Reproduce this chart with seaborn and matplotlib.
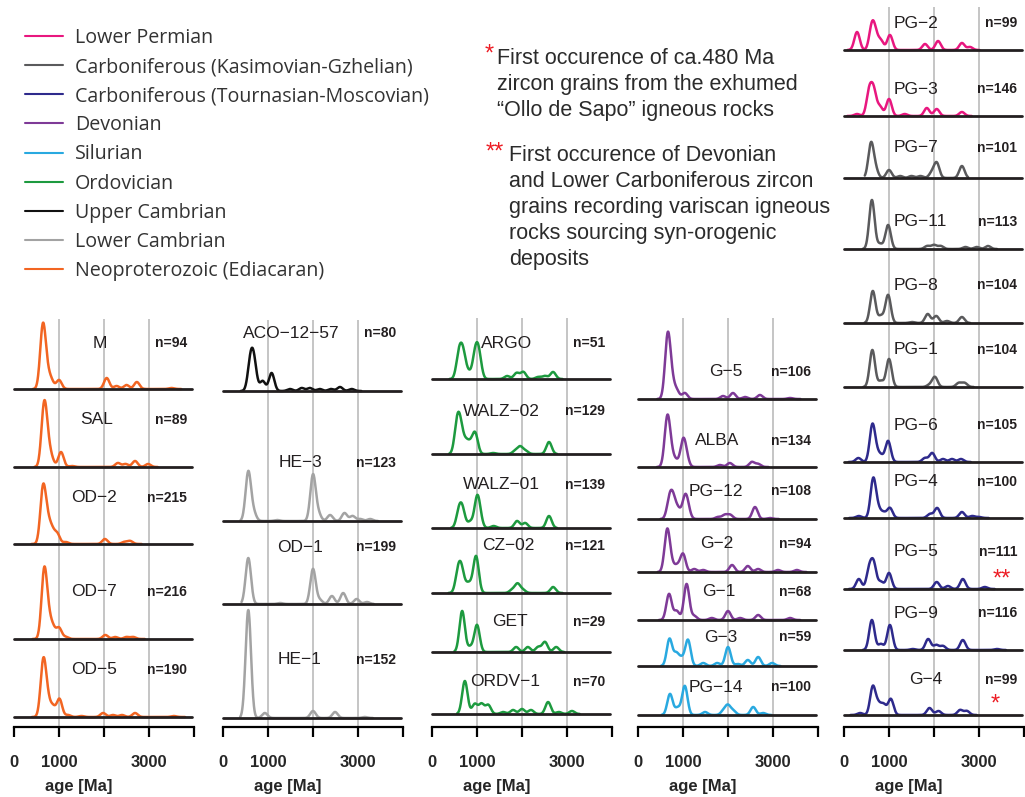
import numpy as np
import matplotlib
matplotlib.use("Agg")
import matplotlib.pyplot as plt
from matplotlib.lines import Line2D
import seaborn as sns

sns.set_style("white")
plt.rcParams['font.family'] = ['Liberation Sans', 'DejaVu Sans']

# Periods (legend order) and their colours
PERIODS = ['Lower Permian', 'Carboniferous (Kasimovian-Gzhelian)',
           'Carboniferous (Tournasian-Moscovian)', 'Devonian', 'Silurian',
           'Ordovician', 'Upper Cambrian', 'Lower Cambrian',
           'Neoproterozoic (Ediacaran)']
PERIOD_COLORS = ['#e8177f', '#5a5a5c', '#2e2a8c', '#7e3a97', '#29a9e0',
                 '#1d9a3f', '#111111', '#a3a3a3', '#f26522']

# Column 1 - Neoproterozoic
C1_NAMES = ['M', 'SAL', 'OD\u22122', 'OD\u22127', 'OD\u22125']
C1_N = [94, 89, 215, 216, 190]
C1_PERIOD = ['Neoproterozoic (Ediacaran)'] * 5
C1_AGES = [[640, 720, 820, 1000, 2060, 2280, 2500, 2730, 3500],
           [667, 740, 830, 1044, 1290, 2310, 2480, 2690, 2980],
           [644, 740, 840, 960, 1150, 2020, 2450, 2580],
           [670, 760, 860, 1000, 1150, 2030, 2250, 2500, 2650],
           [650, 740, 860, 1010, 1200, 1500, 1980, 2200, 2400, 2690, 3550]]
C1_WTS = [[60, 14, 9, 9, 11, 3, 4, 7, 1],
          [57, 18, 8, 15, 1, 4, 3, 6, 3],
          [54, 20, 13, 10, 2, 5, 2, 3],
          [66, 18, 11, 11, 2, 4, 2, 2, 2],
          [54, 16, 10, 18, 2, 1, 4, 2, 2, 4, 1]]

# Column 2 - Cambrian
C2_NAMES = ['ACO\u221212\u221257', 'HE\u22123', 'OD\u22121', 'HE\u22121']
C2_N = [80, 123, 199, 152]
C2_PERIOD = ['Upper Cambrian', 'Lower Cambrian', 'Lower Cambrian', 'Lower Cambrian']
C2_AGES = [[610, 690, 880, 1080, 1490, 1750, 1930, 2150, 2400, 2600, 2860],
           [562, 680, 1200, 2000, 2120, 2380, 2700, 2880, 3050, 3270],
           [562, 1270, 2000, 2150, 2420, 2670, 2970, 3200],
           [562, 930, 2000, 2490, 3150]]
C2_WTS = [[28, 26, 10, 18, 2, 3, 3, 2, 2, 4, 2],
          [49, 8, 1, 46, 7, 6, 8, 5, 2, 2],
          [46, 1, 35, 4, 8, 11, 5, 2],
          [108, 5, 7, 6, 1]]

# Column 3 - Ordovician
C3_NAMES = ['ARGO', 'WALZ\u221202', 'WALZ\u221201', 'CZ\u221202', 'GET', 'ORDV\u22121']
C3_N = [51, 129, 139, 121, 29, 70]
C3_PERIOD = ['Ordovician'] * 6
C3_AGES = [[600, 690, 810, 960, 1040, 1670, 1880, 2030, 2360, 2510, 2690],
           [560, 640, 760, 860, 960, 1360, 1850, 1960, 2080, 2600],
           [600, 680, 850, 1000, 1060, 1370, 1890, 2070, 2600],
           [580, 660, 800, 880, 980, 1780, 1900, 2020, 2690],
           [670, 850, 1000, 1870, 2130, 2360, 2510, 2760],
           [730, 950, 1100, 1250, 1580, 1800, 2000, 2200, 2580, 2820, 3110]]
C3_WTS = [[24, 24, 6, 23, 23, 3, 6, 7, 2, 3, 7],
          [30, 22, 11, 8, 20, 1, 3, 7, 3, 12],
          [16, 16, 6, 27, 9, 2, 7, 5, 12],
          [20, 20, 8, 4, 36, 3, 9, 3, 6],
          [41, 5, 27, 5, 5, 5, 10, 5],
          [33, 10, 10, 9, 2, 4, 5, 4, 12, 2, 3]]

# Column 4 - Devonian / Silurian
C4_NAMES = ['G\u22125', 'ALBA', 'PG\u221212', 'G\u22122', 'G\u22121', 'G\u22123', 'PG\u221214']
C4_N = [106, 134, 108, 94, 68, 59, 100]
C4_PERIOD = ['Devonian'] * 5 + ['Silurian'] * 2
C4_AGES = [[660, 750, 860, 1040, 1890, 2110, 2380, 2710, 3380],
           [650, 730, 840, 1000, 1070, 1820, 2040, 2530, 2670],
           [700, 780, 890, 1040, 1100, 1780, 1930, 2050, 2600, 2930],
           [650, 750, 870, 1000, 1250, 1450, 2090, 2440, 2670, 3110, 3530],
           [690, 860, 1080, 1250, 1640, 2000, 2270, 2670, 3380],
           [700, 850, 970, 1110, 1450, 1760, 2000, 2220, 2440, 2670, 2980],
           [711, 880, 1040, 1490, 1900, 2000, 2120, 2560, 2780]]
C4_WTS = [[62, 15, 8, 6, 3, 6, 2, 4, 1],
          [47, 12, 6, 24, 9, 2, 4, 5, 3],
          [18, 18, 9, 18, 10, 2, 4, 4, 12, 1],
          [42, 6, 6, 18, 3, 2, 7, 6, 3, 2, 2],
          [26, 9, 36, 4, 2, 9, 2, 5, 2],
          [27, 12, 7, 26, 3, 3, 19, 2, 6, 9, 3],
          [21, 7, 29, 3, 4, 9, 4, 8, 2]]

# Column 5 - Carboniferous / Permian
C5_NAMES = ['PG\u22122', 'PG\u22123', 'PG\u22127', 'PG\u221211', 'PG\u22128', 'PG\u22121',
            'PG\u22126', 'PG\u22124', 'PG\u22125', 'PG\u22129', 'G\u22124']
C5_N = [99, 146, 101, 113, 104, 104, 105, 100, 111, 116, 99]
C5_PERIOD = (['Lower Permian'] * 2 + ['Carboniferous (Kasimovian-Gzhelian)'] * 4
             + ['Carboniferous (Tournasian-Moscovian)'] * 5)
C5_AGES = [[290, 620, 700, 820, 1020, 1800, 2090, 2620, 2800],
           [290, 560, 660, 800, 1000, 1350, 1840, 2060, 2620],
           [600, 700, 1000, 1250, 1500, 1700, 1950, 2060, 2620],
           [620, 800, 980, 1850, 2000, 2150, 2700, 2950, 3200],
           [640, 820, 980, 1510, 1860, 2050, 2290, 2620],
           [630, 820, 1000, 1900, 2020, 2550, 2680],
           [320, 630, 720, 820, 980, 1800, 1960, 2200, 2400, 2600],
           [330, 650, 760, 880, 1020, 1910, 2070, 2620, 2850, 3000],
           [330, 560, 660, 820, 1000, 2060, 2310, 2640, 3130],
           [620, 820, 1020, 1530, 1870, 2050, 2200, 2640, 3400],
           [360, 640, 760, 880, 1040, 1900, 2100, 2580, 2730]]
C5_WTS = [[18, 23, 13, 9, 15, 6, 9, 7, 3],
          [2, 24, 24, 9, 17, 2, 8, 7, 4],
          [34, 8, 8, 2, 2, 2, 5, 15, 12],
          [49, 5, 24, 3, 4, 3, 2, 2, 3],
          [32, 7, 28, 1, 9, 7, 2, 6],
          [37, 6, 28, 2, 10, 4, 4],
          [4, 36, 7, 6, 21, 4, 9, 3, 3, 3],
          [2, 39, 8, 5, 10, 4, 10, 6, 2, 1],
          [10, 19, 24, 7, 16, 7, 3, 10, 2],
          [30, 6, 25, 1, 11, 5, 4, 10, 1],
          [2, 28, 10, 10, 16, 7, 4, 5, 4]]

# ---- layout (pixels in a 1025 x 797 canvas) ----
W, H = 1025, 797
PX_PER_MA = 0.045
SIGMA = 60          # KDE bandwidth in Ma
PANEL_H = 130       # height of each KDE axes in px
AXIS_Y = 727

C1_BASE = [389, 467, 544, 639, 717]
C1_LABEL = [(100, 343), (97, 420), (94, 498), (94, 592), (94, 670)]
C2_BASE = [391, 521, 604, 718]
C2_LABEL = [(291, 333), (300, 463), (300, 547), (300, 660)]
C3_BASE = [379, 454, 528, 593, 652, 714]
C3_LABEL = [(507, 343), (501, 411), (501, 485), (508, 546), (510, 622), (505, 682)]
C4_BASE = [399, 467, 519, 572, 620, 666, 715]
C4_LABEL = [(726, 372), (717, 441), (716, 491), (717, 544), (719, 592), (721, 637), (716, 687)]
C5_BASE = [50, 116, 178, 249, 323, 387, 462, 518, 589, 650, 715]
C5_LABEL = [(916, 23), (916, 89), (916, 148), (920, 222), (916, 285), (916, 350),
            (916, 425), (916, 482), (916, 552), (916, 613), (926, 680)]

COLUMNS = [
    (14, 319, C1_NAMES, C1_N, C1_PERIOD, C1_AGES, C1_WTS, C1_BASE, C1_LABEL),
    (223, 320, C2_NAMES, C2_N, C2_PERIOD, C2_AGES, C2_WTS, C2_BASE, C2_LABEL),
    (432, 318, C3_NAMES, C3_N, C3_PERIOD, C3_AGES, C3_WTS, C3_BASE, C3_LABEL),
    (638, 318, C4_NAMES, C4_N, C4_PERIOD, C4_AGES, C4_WTS, C4_BASE, C4_LABEL),
    (844, 7, C5_NAMES, C5_N, C5_PERIOD, C5_AGES, C5_WTS, C5_BASE, C5_LABEL),
]

TEXT_DARK = '#231f20'
STAR_RED = '#ed1c24'


def px_rect(left, top, width, height):
    return [left / W, 1 - (top + height) / H, width / W, height / H]


def px_xy(x, y):
    return x / W, 1 - y / H


def draw_column_axis(fig, x0, top):
    ax = fig.add_axes(px_rect(x0, top, 4000 * PX_PER_MA, AXIS_Y - top))
    ax.patch.set_alpha(0)
    for v in [1000, 2000, 3000]:
        ax.axvline(v, color='#b5b5b5', lw=1.1, zorder=0)
    ax.set_xlim(0, 4000)
    ax.set_yticks([])
    sns.despine(ax=ax, left=True)
    ax.spines['bottom'].set_linewidth(1.6)
    ax.spines['bottom'].set_color('black')
    ax.set_xticks([0, 1000, 2000, 3000, 4000])
    ax.set_xticklabels(['0', '1000', '', '3000', ''])
    ax.tick_params(axis='x', length=7.5, width=1.6, color='black', pad=13,
                   labelsize=12, bottom=True)
    for lab in ax.get_xticklabels():
        lab.set_fontweight('bold')
    ax.set_xlabel('age [Ma]', fontsize=12, fontweight='bold')
    ax.xaxis.set_label_coords(0.36, -(779 - AXIS_Y) / (AXIS_Y - top))


def draw_sample(fig, x0, base_y, ages, wts, color):
    ax = fig.add_axes(px_rect(x0, base_y - PANEL_H, 4000 * PX_PER_MA, PANEL_H))
    ages = np.asarray(ages, dtype=float)
    wts = np.asarray(wts, dtype=float)
    std = np.sqrt(np.cov(ages, aweights=wts))
    sns.kdeplot(x=ages, weights=wts, bw_method=SIGMA / std, gridsize=500,
                color=color, lw=1.8, ax=ax)
    for ln in ax.lines:
        ln.set_clip_on(False)
    ax.set_xlim(0, 4000)
    # weights are peak heights in px -> same vertical scale for every panel
    ax.set_ylim(0, PANEL_H / (wts.sum() * SIGMA * np.sqrt(2 * np.pi)))
    ax.axhline(0, xmin=0, xmax=0.99, color=TEXT_DARK, lw=2.0, zorder=5, clip_on=False)
    ax.axis('off')


def main():
    fig = plt.figure(figsize=(W / 100, H / 100), dpi=100)
    color_of = dict(zip(PERIODS, PERIOD_COLORS))

    for x0, top, names, ns, periods, ages, wts, bases, labels in COLUMNS:
        draw_column_axis(fig, x0, top)
        for i, name in enumerate(names):
            draw_sample(fig, x0, bases[i], ages[i], wts[i], color_of[periods[i]])
            lx, ly = labels[i]
            fig.text(*px_xy(lx, ly), name, ha='center', va='center',
                     fontsize=12.5, color=TEXT_DARK)
            fig.text(*px_xy(x0 + 173, ly), f'n={ns[i]}', ha='right', va='center',
                     fontsize=10, fontweight='bold', color=TEXT_DARK)

    # red markers next to PG-5 and G-4
    fig.text(*px_xy(1002, 586), '**', ha='center', va='baseline', fontsize=17, color=STAR_RED)
    fig.text(*px_xy(995, 711), '*', ha='center', va='baseline', fontsize=17, color=STAR_RED)

    # legend
    handles = [Line2D([], [], color=c, lw=1.5) for c in PERIOD_COLORS]
    fig.legend(handles, PERIODS, loc='upper left', bbox_to_anchor=px_xy(25, 28),
               frameon=False, prop={'family': 'Open Sans', 'size': 14.1},
               handlelength=1.95, handletextpad=0.6, labelspacing=0.465,
               borderaxespad=0, borderpad=0, labelcolor='#333333')

    # notes
    note1 = ['First occurence of ca.480 Ma', 'zircon grains from the exhumed',
             '\u201cOllo de Sapo\u201d igneous rocks']
    note2 = ['First occurence of Devonian', 'and Lower Carboniferous zircon',
             'grains recording variscan igneous', 'rocks sourcing syn-orogenic',
             'deposits']
    fig.text(*px_xy(489, 61), '*', ha='center', va='baseline', fontsize=17, color=STAR_RED)
    for k, line in enumerate(note1):
        fig.text(*px_xy(497, 64 + 26 * k), line, ha='left', va='baseline',
                 fontsize=15.5, color='#2b2b2b')
    fig.text(*px_xy(495, 159), '**', ha='center', va='baseline', fontsize=17, color=STAR_RED)
    for k, line in enumerate(note2):
        fig.text(*px_xy(509, 161 + 26 * k), line, ha='left', va='baseline',
                 fontsize=15.5, color='#2b2b2b')

    fig.savefig('out.png', dpi=100)


if __name__ == "__main__":
    main()
